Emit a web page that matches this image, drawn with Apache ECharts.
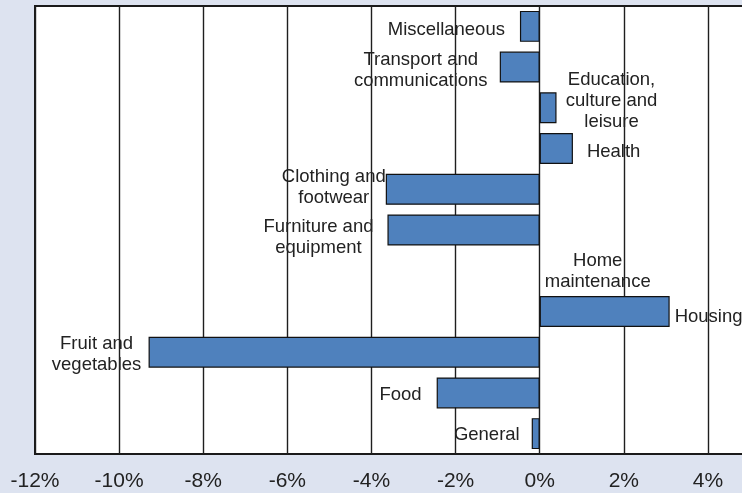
<!DOCTYPE html>
<html>
<head>
<meta charset="utf-8">
<script src="https://cdn.jsdelivr.net/npm/echarts@6/dist/echarts.min.js"></script>
<style>
  html, body { margin: 0; padding: 0; background: #dde3f0; }
  #chart { width: 742px; height: 493px; }
</style>
</head>
<body>
<div id="chart"></div>
<script>
// Categories, bottom to top
var categories = [
  'General',
  'Food',
  'Fruit and\nvegetables',
  'Housing',
  'Home\nmaintenance',
  'Furniture and\nequipment',
  'Clothing and\nfootwear',
  'Health',
  'Education,\nculture and\nleisure',
  'Transport and\ncommunications',
  'Miscellaneous'
];
// Percentage change
var values = [-0.19, -2.45, -9.30, 3.09, 0, -3.62, -3.66, 0.79, 0.40, -0.95, -0.47];
// x-axis tick values
var xTicks = [-12, -10, -8, -6, -4, -2, 0, 2, 4];

// label placement (style only)
var labelPlacement = [
  { position: 'left',  distance: 12, offset: [0, 1] },
  { position: 'left',  distance: 15, offset: [0, 2] },
  { position: 'left',  distance: 0, align: 'center', offset: [-52, 2] },
  { position: 'right', distance: 5,  offset: [0, 5] },
  { position: 'right', distance: 0, align: 'center', offset: [58, 1] },
  { position: 'left',  distance: 0, align: 'center', offset: [-69, 7] },
  { position: 'left',  distance: 0, align: 'center', offset: [-52, -2] },
  { position: 'right', distance: 14, offset: [0, 3] },
  { position: 'right', distance: 0, align: 'center', offset: [55, -7] },
  { position: 'left',  distance: 0, align: 'center', offset: [-79, 3] },
  { position: 'left',  distance: 15, offset: [0, 3.5] }
];

var data = values.map(function (v, i) {
  var p = labelPlacement[i];
  var lbl = { show: true, position: p.position, distance: p.distance, offset: p.offset };
  if (p.align) lbl.align = p.align;
  var item = { value: v, label: lbl };
  if (v === 0) item.itemStyle = { borderWidth: 0 };
  return item;
});

var chart = echarts.init(document.getElementById('chart'), null, { renderer: 'canvas' });
chart.setOption({
  backgroundColor: '#dde3f0',
  animation: false,
  grid: {
    left: 35, right: -8, top: 6, bottom: 39,
    outerBoundsMode: 'none',
    containLabel: false,
    show: true, backgroundColor: '#ffffff',
    borderColor: '#1a1a1a', borderWidth: 2
  },
  xAxis: {
    type: 'value',
    min: -12, max: 5, interval: 2,
    axisLine: { show: false },
    axisTick: { show: false },
    splitLine: { show: true, lineStyle: { color: '#1e1e1e', width: 1.4 } },
    axisLabel: {
      fontFamily: 'Liberation Sans, Arial, sans-serif',
      fontSize: 21, color: '#222', margin: 17,
      formatter: function (v) { return xTicks.indexOf(v) >= 0 ? v + '%' : ''; }
    }
  },
  yAxis: {
    type: 'category',
    data: categories,
    axisLine: { show: false },
    axisTick: { show: false },
    axisLabel: { show: false },
    splitLine: { show: false }
  },
  series: [{
    type: 'bar',
    data: data,
    barCategoryGap: '24%',
    itemStyle: { color: '#4f81bd', borderColor: '#111', borderWidth: 1.2 },
    label: {
      formatter: '{b}',
      fontFamily: 'Liberation Sans, Arial, sans-serif',
      fontSize: 18.5,
      lineHeight: 21,
      color: '#222'
    }
  }]
});
</script>
</body>
</html>
